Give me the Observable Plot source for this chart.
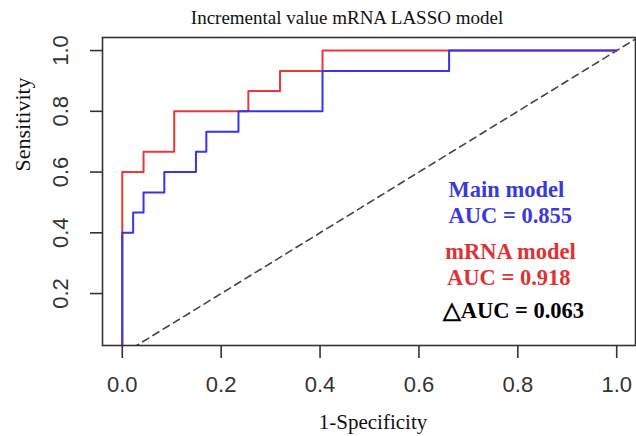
<!DOCTYPE html>
<html><head><meta charset="utf-8">
<script src="https://cdn.jsdelivr.net/npm/d3@7"></script>
<script src="https://cdn.jsdelivr.net/npm/@observablehq/plot@0.6"></script>
<style>body{margin:0;background:#fff;overflow:hidden}</style>
</head><body><div id="chart"></div>
<script>
const titleText = "Incremental value mRNA LASSO model";
const xLabel = "1-Specificity";
const yLabel = "Sensitivity";
const xTicks = [0, 0.2, 0.4, 0.6, 0.8, 1.0];
const yTicks = [0.2, 0.4, 0.6, 0.8, 1.0];

// ROC points (1-specificity, sensitivity), drawn as step curves
const mainFpr = [0, 0, 0.022, 0.043, 0.085, 0.149, 0.170, 0.235, 0.405, 0.661, 1.0];
const mainTpr = [0, 0.4, 0.467, 0.533, 0.6, 0.667, 0.733, 0.8, 0.933, 1.0, 1.0];
const mrnaFpr = [0, 0, 0.043, 0.105, 0.255, 0.319, 0.405, 1.0];
const mrnaTpr = [0, 0.6, 0.667, 0.8, 0.867, 0.933, 1.0, 1.0];

const legendLabels = ["Main model", "AUC = 0.855", "mRNA model", "AUC = 0.918", "\u25B3AUC = 0.063"];

const BLUE = "#3535ee", RED = "#e83838";
const mainData = mainFpr.map((x, i) => ({x, y: mainTpr[i]}));
const mrnaData = mrnaFpr.map((x, i) => ({x, y: mrnaTpr[i]}));
const diag = [{x: 0, y: 0}, {x: 1.2, y: 1.2}];

const legendLayout = [
  {x: 0.660, y: 0.542, color: "#3a3ad8"},
  {x: 0.660, y: 0.457, color: "#3a3ad8"},
  {x: 0.653, y: 0.338, color: "#e03232"},
  {x: 0.657, y: 0.253, color: "#e03232"},
  {x: 0.648, y: 0.144, color: "#000000"}
].map((d, i) => ({...d, label: legendLabels[i]}));

const serif = "'Liberation Serif', 'Times New Roman', serif";

const chart = Plot.plot({
  width: 636,
  height: 436,
  marginLeft: 102,
  marginRight: 1,
  marginTop: 37,
  marginBottom: 91,
  style: {fontFamily: "'Liberation Sans', Arial, sans-serif", fontSize: "22px", color: "#333", background: "#fff"},
  x: {domain: [-0.04, 1.038]},
  y: {domain: [0.029, 1.043]},
  marks: [
    Plot.line(diag, {x: "x", y: "y", stroke: "#444", strokeWidth: 1.6, strokeDasharray: "7,5", clip: true}),
    Plot.line(mrnaData, {x: "x", y: "y", curve: "step-after", stroke: RED, strokeWidth: 2, clip: true}),
    Plot.line(mainData, {x: "x", y: "y", curve: "step-after", stroke: BLUE, strokeWidth: 2, clip: true}),
    Plot.frame({stroke: "#333", strokeWidth: 1.6}),
    Plot.axisX({ticks: xTicks, tickSize: 13, tickPadding: 18, tickFormat: d3.format(".1f"), stroke: "#333", strokeWidth: 1.6, fill: "#333", fontSize: 22, label: null}),
    Plot.axisY({ticks: yTicks, tickSize: 12, tickFormat: () => "", stroke: "#333", strokeWidth: 1.6, label: null}),
    Plot.text(yTicks, {y: d => d, text: d => d3.format(".1f")(d), frameAnchor: "left", dx: -42, rotate: -90, textAnchor: "middle", lineAnchor: "middle", fontSize: 22, fill: "#333"}),
    Plot.text([titleText], {text: d => d, frameAnchor: "top", dx: -22, dy: -20, lineAnchor: "middle", fontFamily: serif, fontSize: 19, fill: "#111"}),
    Plot.text([xLabel], {text: d => d, frameAnchor: "bottom", dx: 4, dy: 77, lineAnchor: "middle", fontFamily: serif, fontSize: 21, fill: "#111"}),
    Plot.text([yLabel], {text: d => d, frameAnchor: "left", dx: -80, dy: -20, rotate: -90, lineAnchor: "middle", fontFamily: serif, fontSize: 22, fill: "#111"}),
    Plot.text(legendLayout, {x: "x", y: "y", text: "label", fill: "color", textAnchor: "start", lineAnchor: "middle", fontFamily: serif, fontWeight: "bold", fontSize: 22.5})
  ]
});
document.getElementById("chart").appendChild(chart);
</script>
</body></html>
